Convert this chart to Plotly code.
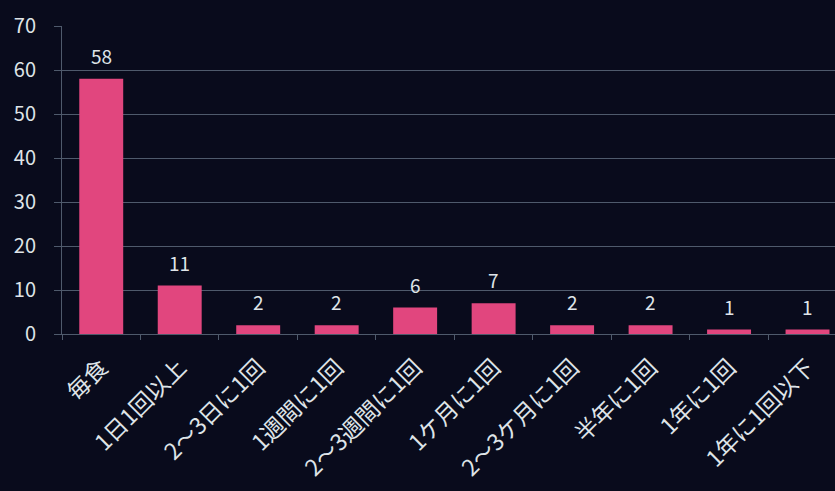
import plotly.graph_objects as go

categories = ["毎食", "1日1回以上", "2～3日に1回", "1週間に1回", "2～3週間に1回",
              "1ケ月に1回", "2～3ケ月に1回", "半年に1回", "1年に1回", "1年に1回以下"]
values = [58, 11, 2, 2, 6, 7, 2, 2, 1, 1]
y_ticks = [0, 10, 20, 30, 40, 50, 60, 70]

txt = "#dfe4e8"
grid = "#4f5a6c"
font_family = "Noto Sans CJK JP"

fig = go.Figure(go.Bar(
    x=categories, y=values, width=0.56,
    marker=dict(color="#e1467e", line=dict(width=0)),
    cliponaxis=False,
))

for c, v in zip(categories, values):
    fig.add_annotation(x=c, y=v, text=str(v), showarrow=False,
                       yanchor="bottom", yshift=8,
                       font=dict(color=txt, size=19, family=font_family))

fig.update_layout(
    width=835, height=491,
    margin=dict(l=62, r=0, t=26, b=157),
    paper_bgcolor="#090b1c", plot_bgcolor="#090b1c",
    font=dict(family=font_family, color=txt),
    showlegend=False,
)
fig.update_xaxes(
    range=[-0.5, 9.35], tickangle=-45, tickfont=dict(size=23, color=txt),
    showgrid=False, showline=True, linecolor=grid, linewidth=1,
    ticks="outside", tickson="boundaries", ticklen=5, tickcolor=grid,
    ticklabelstandoff=10,
)
fig.update_yaxes(
    range=[0, 70], tickvals=y_ticks, tickfont=dict(size=20, color=txt),
    showgrid=True, gridcolor=grid, gridwidth=1,
    showline=True, linecolor=grid, linewidth=1,
    ticks="outside", ticklen=7, tickcolor=grid, ticklabelstandoff=14,
    zeroline=False,
)
fig.write_html("out.html")
